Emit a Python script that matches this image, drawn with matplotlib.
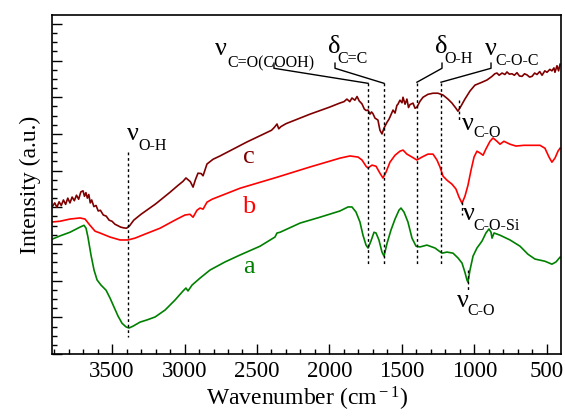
import matplotlib
matplotlib.use("Agg")
import matplotlib.pyplot as plt
from matplotlib.ticker import MultipleLocator, NullFormatter

plt.rcParams["font.family"] = ["Liberation Serif", "DejaVu Serif"]
plt.rcParams["mathtext.fontset"] = "custom"
plt.rcParams["mathtext.rm"] = "Liberation Serif"
plt.rcParams["mathtext.it"] = "Liberation Serif:italic"

# spectre c (marron)
c_wn = [3910, 3895, 3880, 3865, 3850, 3835, 3820, 3805, 3790, 3775, 3760, 3745, 3730,
        3715, 3700, 3690, 3680, 3670, 3660, 3650, 3640, 3625, 3610, 3595, 3580, 3560,
        3540, 3520, 3500, 3480, 3460, 3440, 3420, 3400, 3380, 3350, 3300, 3250, 3200,
        3150, 3100, 3050, 3010, 2990, 2960, 2941, 2925, 2907, 2885, 2872, 2860, 2845,
        2803, 2755, 2570, 2400, 2380, 2362, 2350, 2335, 2300, 2134, 2000, 1930, 1900,
        1880, 1860, 1845, 1825, 1810, 1795, 1776, 1760, 1748, 1734, 1721, 1710, 1700,
        1686, 1666, 1652, 1638, 1624, 1603, 1590, 1583, 1570, 1562, 1548, 1535, 1528,
        1514, 1500, 1493, 1479, 1466, 1455, 1445, 1424, 1410, 1397, 1376, 1355, 1321,
        1286, 1252, 1217, 1183, 1155, 1128, 1114, 1093, 1066, 1031, 997, 948, 914, 879,
        860, 845, 830, 810, 790, 776, 760, 741, 725, 707, 690, 672, 655, 638, 620, 603,
        585, 569, 550, 534, 515, 500, 480, 466, 452, 445, 431, 420, 410]
c_val = [4.03, 4.12, 4.00, 4.15, 4.05, 4.20, 4.08, 4.25, 4.12, 4.28, 4.18, 4.33, 4.22,
         4.42, 4.45, 4.30, 4.40, 4.25, 4.35, 4.12, 4.20, 4.02, 4.05, 3.90, 3.92, 3.79,
         3.76, 3.65, 3.62, 3.54, 3.50, 3.46, 3.44, 3.43, 3.49, 3.65, 3.81, 3.95, 4.09,
         4.25, 4.41, 4.58, 4.71, 4.80, 4.70, 4.55, 4.75, 4.93, 4.92, 4.86, 5.00, 5.18,
         5.31, 5.40, 5.78, 6.10, 6.18, 6.27, 6.14, 6.20, 6.28, 6.54, 6.73, 6.84, 6.88,
         6.95, 6.88, 6.98, 6.92, 7.02, 6.90, 6.82, 6.68, 6.64, 6.65, 6.54, 6.60, 6.55,
         6.43, 6.38, 6.10, 6.00, 6.16, 6.32, 6.40, 6.46, 6.58, 6.65, 6.57, 6.78, 6.81,
         6.92, 6.85, 7.00, 6.81, 6.95, 6.72, 6.80, 6.84, 6.70, 6.73, 6.89, 7.00, 7.08,
         7.11, 7.11, 7.06, 6.95, 6.84, 6.70, 6.62, 6.76, 6.95, 7.17, 7.33, 7.41, 7.47, 7.57,
         7.64, 7.66, 7.60, 7.66, 7.62, 7.69, 7.63, 7.64, 7.60, 7.67, 7.58, 7.57, 7.64, 7.61,
         7.55, 7.57, 7.66, 7.62, 7.70, 7.60, 7.72, 7.68, 7.76, 7.72, 7.80, 7.68, 7.86, 7.72,
         7.90]

# spectre b (rouge)
b_wn = [3914, 3859, 3790, 3721, 3686, 3652, 3617, 3583, 3514, 3445, 3390, 3341, 3272,
        3169, 3066, 2997, 2962, 2941, 2914, 2893, 2872, 2845, 2810, 2617, 2362, 2134,
        1928, 1859, 1803, 1776, 1748, 1734, 1707, 1679, 1652, 1631, 1610, 1583, 1548,
        1514, 1493, 1466, 1431, 1397, 1362, 1321, 1286, 1259, 1238, 1217, 1190, 1155,
        1128, 1107, 1086, 1066, 1045, 1024, 1003, 983, 962, 941, 921, 893, 872, 845,
        824, 797, 755, 714, 659, 603, 548, 514, 486, 466, 445, 424, 410]
b_val = [3.60, 3.62, 3.68, 3.71, 3.68, 3.51, 3.35, 3.30, 3.19, 3.11, 3.11, 3.16, 3.27,
         3.43, 3.65, 3.79, 3.81, 3.73, 3.92, 3.98, 3.95, 4.14, 4.22, 4.52, 4.82, 5.10,
         5.34, 5.40, 5.37, 5.29, 5.12, 5.07, 5.15, 5.12, 4.93, 4.80, 4.96, 5.23, 5.42,
         5.53, 5.56, 5.45, 5.37, 5.29, 5.37, 5.45, 5.45, 5.29, 5.10, 4.85, 4.74, 4.63,
         4.50, 4.28, 4.11, 4.30, 4.60, 5.01, 5.37, 5.53, 5.48, 5.42, 5.59, 5.80, 5.89, 5.80,
         5.72, 5.80, 5.72, 5.67, 5.69, 5.69, 5.69, 5.61, 5.37, 5.23, 5.34, 5.53, 5.61]

# spectre a (vert)
a_wn = [3914, 3859, 3790, 3721, 3693, 3679, 3666, 3645, 3624, 3603, 3576, 3541, 3514,
        3486, 3459, 3431, 3403, 3383, 3355, 3307, 3259, 3203, 3134, 3066, 3010, 2990,
        2976, 2948, 2893, 2824, 2721, 2617, 2479, 2376, 2362, 2341, 2203, 2066, 1928,
        1872, 1845, 1817, 1790, 1769, 1748, 1734, 1714, 1693, 1679, 1659, 1638, 1624,
        1603, 1576, 1548, 1521, 1507, 1486, 1459, 1431, 1403, 1376, 1328, 1272, 1245,
        1224, 1190, 1148, 1114, 1086, 1066, 1052, 1045, 1031, 1010, 983, 948, 921, 900,
        886, 879, 865, 824, 755, 686, 631, 583, 514, 466, 438, 410]
a_val = [3.13, 3.22, 3.32, 3.46, 3.51, 3.43, 3.19, 2.70, 2.29, 2.02, 1.88, 1.74, 1.53,
         1.28, 1.04, 0.84, 0.74, 0.71, 0.76, 0.87, 0.93, 1.01, 1.20, 1.47, 1.72, 1.80,
         1.72, 1.88, 2.07, 2.29, 2.51, 2.70, 2.94, 3.19, 3.30, 3.32, 3.57, 3.73, 3.90,
         4.01, 4.01, 3.87, 3.60, 3.24, 2.97, 2.89, 3.08, 3.32, 3.30, 3.11, 2.78, 2.67,
         3.02, 3.38, 3.68, 3.92, 3.98, 3.87, 3.60, 3.16, 2.94, 2.92, 2.97, 2.89, 2.81,
         2.75, 2.78, 2.75, 2.62, 2.48, 2.23, 2.02, 1.96, 2.29, 2.67, 2.89, 3.08, 3.30, 3.41,
         3.32, 3.16, 3.30, 3.24, 3.11, 2.94, 2.72, 2.59, 2.53, 2.45, 2.51, 2.64]

# positions des bandes (cm-1)
band_oh = 3390
bands = [1734, 1624, 1397, 1231]
band_co_c, band_cosi_b, band_co_a = 1107, 1086, 1045

fig = plt.figure(figsize=(5.65, 4.19), dpi=100)
ax = fig.add_axes([0.092, 0.155, 0.901, 0.809])

ax.plot(c_wn, c_val, color="#800000", lw=1.2)
ax.plot(b_wn, b_val, color="#ff0000", lw=1.2)
ax.plot(a_wn, a_val, color="#008000", lw=1.2)

dash = dict(color="black", lw=1.0, linestyle=(0, (2, 2)))
ax.plot([band_oh, band_oh], [5.50, 0.46], **dash)
for wn in bands:
    ax.plot([wn, wn], [7.38, 2.43], **dash)
ax.plot([band_co_c, band_co_c], [6.92, 6.38], **dash)
ax.plot([band_cosi_b, band_cosi_b], [4.14, 3.79], **dash)
ax.plot([band_co_a, band_co_a], [2.29, 1.74], **dash)

# traits de rappel
lead = dict(color="black", lw=1.0)
ax.plot([2383, 2383, bands[0]], [7.93, 7.79, 7.38], **lead)
ax.plot([1962, 1962, bands[1]], [7.93, 7.79, 7.38], **lead)
ax.plot([1224, 1224, bands[2]], [7.93, 7.79, 7.41], **lead)
ax.plot([886, 886, bands[3]], [7.93, 7.79, 7.41], **lead)


def band_label(x, y, sym, xs, ys, sub):
    ax.text(x, y, sym, fontsize=19, ha="left", va="baseline")
    ax.text(xs, ys, sub, fontsize=11.5, ha="left", va="baseline")


band_label(2790, 8.15, "ν", 2707, 7.82, "C=O(COOH)")
band_label(2010, 8.20, "δ", 1948, 7.93, "C=C")
band_label(1272, 8.20, "δ", 1210, 7.93, "O-H")
band_label(928, 8.15, "ν", 859, 7.87, "C-O-C")
band_label(3397, 5.83, "ν", 3321, 5.56, "O-H")
band_label(1086, 6.10, "ν", 1010, 5.91, "C-O")
band_label(1079, 3.65, "ν", 1010, 3.38, "C-O-Si")
band_label(1121, 1.28, "ν", 1052, 1.06, "C-O")

ax.text(2555, 5.20, "c", color="#800000", fontsize=19, ha="center", va="baseline")
ax.text(2555, 3.84, "b", color="#ff0000", fontsize=19, ha="center", va="baseline")
ax.text(2555, 2.21, "a", color="#008000", fontsize=19, ha="center", va="baseline")

ax.set_xlim(3914, 403)
ax.set_ylim(0, 9.24)
ax.xaxis.set_major_locator(MultipleLocator(500))
ax.xaxis.set_minor_locator(MultipleLocator(100))
ax.yaxis.set_major_locator(MultipleLocator(1))
ax.yaxis.set_minor_locator(MultipleLocator(0.25))
ax.yaxis.set_major_formatter(NullFormatter())
ax.tick_params(which="both", direction="in", top=False, right=False, width=1.0)
ax.tick_params(which="major", length=7, labelsize=16.5, pad=5)
ax.tick_params(which="minor", length=3.5)
for sp in ax.spines.values():
    sp.set_linewidth(1.2)

ax.set_xlabel("Wavenumber (cm$^{\\rm -1}$)", fontsize=17, labelpad=2)
ax.set_ylabel("Intensity (a.u.)", fontsize=17, labelpad=3)

fig.savefig("out.png", dpi=100)
